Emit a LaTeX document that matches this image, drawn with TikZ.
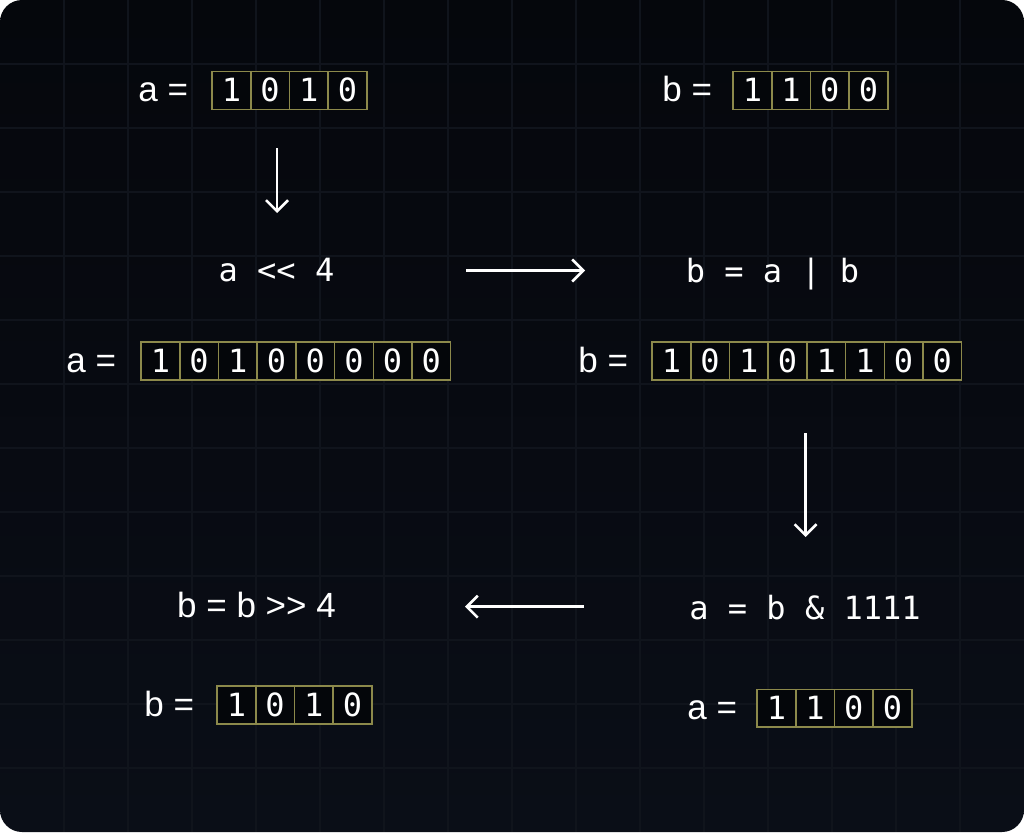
\documentclass[tikz,border=0pt]{standalone}
\usepackage{fontspec}
\setmainfont{Liberation Sans}
\newfontfamily\codefont{DejaVu Sans Mono}
\usetikzlibrary{arrows.meta,positioning}

\definecolor{bgtop}{HTML}{05070C}
\definecolor{bgbot}{HTML}{0A0E17}
\definecolor{gridc}{HTML}{10141C}
\definecolor{cellc}{HTML}{8C894B}
\definecolor{cellfill}{HTML}{04060A}

\tikzset{
  bitcell/.style={draw=cellc, fill=cellfill, line width=1.5pt, minimum width=38.7pt, minimum height=37.7pt, inner sep=0pt, text=white, text height=23pt, text depth=0pt, font=\codefont\fontsize{32}{32}\selectfont},
  varlbl/.style={text=white, inner sep=0pt, text height=23pt, text depth=0pt, font=\fontsize{35}{35}\selectfont},
  oplbl/.style={text=white, inner sep=0pt, text height=23pt, text depth=0pt, font=\codefont\fontsize{32}{32}\selectfont},
  flow/.style={white, line width=2.5pt, -{Straight Barb[length=11pt,width=22pt]}}
}

% one register drawn as a row of cells: name, x of first cell, y, bits
\newcommand\bitrow[4]{%
  \foreach \d [count=\i from 0] in {#4}
    \node[bitcell] (#1-\i) at ({#2+38.7*\i},#3) {\d};
}

\begin{document}
\begin{tikzpicture}[x=1pt,y=-1pt]
        \fill[white] (0,0) rectangle (1024,832);
        \shade[rounded corners=22pt, top color=bgtop, bottom color=bgbot] (0,0) rectangle (1024,832);
        \begin{scope}
          \clip[rounded corners=22pt] (0,0) rectangle (1024,832);
          \foreach \gx in {64,128,...,960}
            \draw[gridc, line width=1.3pt] (\gx,0) -- (\gx,832);
          \foreach \gy in {64,128,...,768}
            \draw[gridc, line width=1.3pt] (0,\gy) -- (1024,\gy);
        \end{scope}

        % first row
        \bitrow{aone}{231.4}{90.5}{1,0,1,0}
        \node[varlbl, left=23pt of aone-0] (aonelbl) {a =};
        \bitrow{bone}{752.4}{90.5}{1,1,0,0}
        \node[varlbl, left=20pt of bone-0] (bonelbl) {b =};

        \coordinate (s1) at (277,148);
        \coordinate (e1) at (277,213);
        \draw[flow] (s1) -- (e1);

        % shift and or
        \node[oplbl] (shl) at (276.5,270.2) {a <\kern0pt< 4};
        \node[oplbl] (orop) at (772.5,270.5) {b = a | b};
        \coordinate (s2) at (466,270.5);
        \coordinate (e2) at (585,270.5);
        \draw[flow] (s2) -- (e2);

        \bitrow{atwo}{160.4}{361}{1,0,1,0,0,0,0,0}
        \node[varlbl, left=24pt of atwo-0] (atwolbl) {a =};
        \bitrow{btwo}{671.4}{361}{1,0,1,0,1,1,0,0}
        \node[varlbl, left=23pt of btwo-0] (btwolbl) {b =};

        \coordinate (s3) at (805.5,433);
        \coordinate (e3) at (805.5,537);
        \draw[flow] (s3) -- (e3);

        % mask and shift back
        \node[oplbl] (andop) at (805,607.8) {a = b \& 1111};
        \node[varlbl] (shr) at (256.5,606.2) {b = b >\kern0pt> 4};
        \coordinate (s4) at (584,606.7);
        \coordinate (e4) at (465,606.7);
        \draw[flow] (s4) -- (e4);

        \bitrow{bthree}{236.4}{705}{1,0,1,0}
        \node[varlbl, left=22pt of bthree-0] (bthreelbl) {b =};
        \bitrow{athree}{776.4}{708.3}{1,1,0,0}
        \node[varlbl, left=19pt of athree-0] (athreelbl) {a =};
\end{tikzpicture}
\end{document}
